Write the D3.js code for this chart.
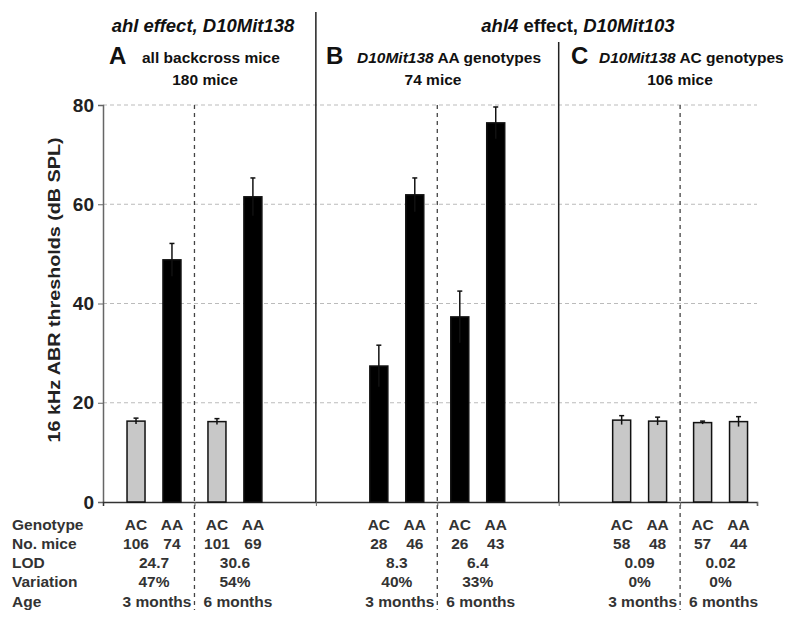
<!DOCTYPE html>
<html>
<head>
<meta charset="utf-8">
<script src="https://cdn.jsdelivr.net/npm/d3@7"></script>
<style>
  body { margin: 0; background: #fff; }
  svg { font-family: "Liberation Sans", Arial, sans-serif; }
</style>
</head>
<body>
<svg id="chart" width="800" height="623"></svg>
<script>
/***********************************************************************/
// Data

// group slot on the x axis (empty slots act as gaps between panels)
var groupSlots = [0, 1, 3, 4, 6, 7];
var genotypes = ['AC', 'AA'];
var meanAC = [16.3, 16.2, 27.4, 37.3, 16.5, 16.0];
var meanAA = [48.8, 61.5, 61.9, 76.4, 16.3, 16.2];
var errAC = [0.6, 0.6, 4.2, 5.2, 0.9, 0.3];
var errAA = [3.3, 3.8, 3.4, 3.2, 0.8, 1.0];
var fillAC = ['#c8c8c8', '#c8c8c8', '#000', '#000', '#c8c8c8', '#c8c8c8'];
var fillAA = ['#000', '#000', '#000', '#000', '#c8c8c8', '#c8c8c8'];
var miceAC = [106, 101, 28, 26, 58, 57];
var miceAA = [74, 69, 46, 43, 48, 44];
var lods = ['24.7', '30.6', '8.3', '6.4', '0.09', '0.02'];
var variations = ['47%', '54%', '40%', '33%', '0%', '0%'];
var ages = ['3 months', '6 months', '3 months', '6 months', '3 months', '6 months'];
var rowLabels = ['Genotype', 'No. mice', 'LOD', 'Variation', 'Age'];
var yTicks = [0, 20, 40, 60, 80];
var dividerSlots = [2, 5];
var dashSlots = [0.5, 3.5, 6.5];

/***********************************************************************/
// Scales

var svg = d3.select('#chart');
var x = d3.scaleLinear().domain([-0.63, 7.45]).range([103, 757]);
var y = d3.scaleLinear().domain([0, 80]).range([502, 105]);
var barOff = 0.222, barW = 18;

// gridlines
svg.append('g').selectAll('line').data(yTicks.slice(1)).join('line')
  .attr('x1', x(-0.63)).attr('x2', x(7.45))
  .attr('y1', d => y(d)).attr('y2', d => y(d))
  .attr('stroke', '#bbb').attr('stroke-width', 1).attr('stroke-dasharray', '4,3');

// y axis
var yAxis = svg.append('g').attr('transform', 'translate(' + x(-0.63) + ',0)')
  .call(d3.axisLeft(y).tickValues(yTicks).tickSize(5).tickPadding(4));
yAxis.select('.domain').attr('stroke', '#666').attr('stroke-width', 1.5);
yAxis.selectAll('.tick line').attr('stroke', '#666');
yAxis.selectAll('text').attr('font-size', 19).attr('font-weight', 'bold').attr('fill', '#222')
  .attr('font-family', '"Liberation Sans", Arial, sans-serif');

svg.append('text')
  .attr('transform', 'translate(60,290) rotate(-90)')
  .attr('text-anchor', 'middle')
  .attr('font-size', 17).attr('font-weight', 'bold').attr('fill', '#222')
  .attr('textLength', 305).attr('lengthAdjust', 'spacingAndGlyphs')
  .text('16 kHz ABR thresholds (dB SPL)');

// dashed group separators
svg.append('g').selectAll('line').data(dashSlots).join('line')
  .attr('x1', d => x(d)).attr('x2', d => x(d))
  .attr('y1', 105).attr('y2', 610)
  .attr('stroke', '#444').attr('stroke-width', 1.3).attr('stroke-dasharray', '4,4');

// solid panel dividers
svg.append('g').selectAll('line').data(dividerSlots).join('line')
  .attr('x1', d => x(d)).attr('x2', d => x(d))
  .attr('y1', (d, i) => i === 0 ? 12 : 42).attr('y2', y(0))
  .attr('stroke', '#222').attr('stroke-width', 1.5);

// x axis
var xAxis = svg.append('g').attr('transform', 'translate(0,' + y(0) + ')')
  .call(d3.axisBottom(x).tickValues([0.5, 2, 3.5, 5, 6.5, 7.45]).tickSize(4).tickFormat(''));
xAxis.select('.domain').attr('stroke', '#333').attr('stroke-width', 1.5);
xAxis.selectAll('.tick line').attr('stroke', '#666');

/***********************************************************************/
// Bars

var bars = [];
groupSlots.forEach((s, i) => {
  bars.push({ pos: s - barOff, v: meanAC[i], e: errAC[i], fill: fillAC[i] });
  bars.push({ pos: s + barOff, v: meanAA[i], e: errAA[i], fill: fillAA[i] });
});

var bar = svg.append('g').selectAll('g').data(bars).join('g');
bar.append('rect')
  .attr('x', d => x(d.pos) - barW / 2).attr('width', barW)
  .attr('y', d => y(d.v)).attr('height', d => y(0) - y(d.v))
  .attr('fill', d => d.fill).attr('stroke', '#111').attr('stroke-width', 1.5);
bar.append('line')
  .attr('x1', d => x(d.pos)).attr('x2', d => x(d.pos))
  .attr('y1', d => y(d.v - d.e)).attr('y2', d => y(d.v + d.e))
  .attr('stroke', '#111').attr('stroke-width', 1.5);
bar.append('line')
  .attr('x1', d => x(d.pos) - 2.5).attr('x2', d => x(d.pos) + 2.5)
  .attr('y1', d => y(d.v + d.e)).attr('y2', d => y(d.v + d.e))
  .attr('stroke', '#111').attr('stroke-width', 1.5);

/***********************************************************************/
// Titles

function richText(tx, ty, size, parts, anchor) {
  var t = svg.append('text').attr('x', tx).attr('y', ty)
    .attr('font-size', size).attr('font-weight', 'bold').attr('fill', '#111')
    .attr('text-anchor', anchor || 'middle');
  parts.forEach(p => t.append('tspan').attr('font-style', p[1] ? 'italic' : 'normal').text(p[0]));
}

richText(203, 32, 18.5, [['ahl effect, D10Mit138', true]]);
richText(578, 32, 18.5, [['ahl4', true], [' effect, ', false], ['D10Mit103', true]]);

svg.selectAll('.panelLetter').data([['A', 109], ['B', 326], ['C', 571]]).join('text')
  .attr('x', d => d[1]).attr('y', 64)
  .attr('font-size', 24).attr('font-weight', 'bold').attr('fill', '#111')
  .text(d => d[0]);

richText(142, 63, 15.5, [['all backcross mice', false]], 'start');
richText(357, 63, 15.5, [['D10Mit138', true], [' AA genotypes', false]], 'start');
richText(599, 63, 15.5, [['D10Mit138', true], [' AC genotypes', false]], 'start');
richText(205, 85, 15.5, [['180 mice', false]]);
richText(433, 85, 15.5, [['74 mice', false]]);
richText(680, 85, 15.5, [['106 mice', false]]);

/***********************************************************************/
// Table under the chart

var rowY = [530, 549, 568, 587, 607];
var table = svg.append('g').attr('font-size', 15.5).attr('font-weight', 'bold').attr('fill', '#333');

table.selectAll('.rowLabel').data(rowLabels).join('text')
  .attr('x', 12).attr('y', (d, i) => rowY[i]).text(d => d);

groupSlots.forEach((s, i) => {
  genotypes.forEach((g, j) => {
    var p = j === 0 ? s - barOff : s + barOff;
    table.append('text').attr('x', x(p)).attr('y', rowY[0]).attr('text-anchor', 'middle').text(g);
    table.append('text').attr('x', x(p)).attr('y', rowY[1]).attr('text-anchor', 'middle')
      .text(j === 0 ? miceAC[i] : miceAA[i]);
  });
  table.append('text').attr('x', x(s)).attr('y', rowY[2]).attr('text-anchor', 'middle').text(lods[i]);
  table.append('text').attr('x', x(s)).attr('y', rowY[3]).attr('text-anchor', 'middle').text(variations[i]);
  table.append('text').attr('x', x(s) + 3).attr('y', rowY[4]).attr('text-anchor', 'middle').text(ages[i]);
});
</script>
</body>
</html>
